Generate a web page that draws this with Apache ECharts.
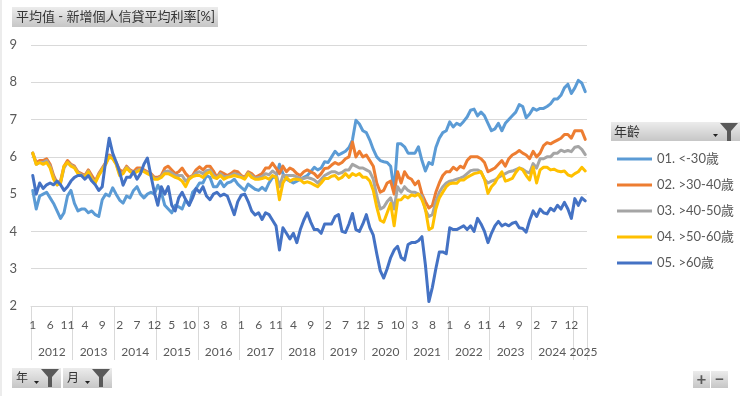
<!DOCTYPE html>
<html><head><meta charset="utf-8">
<script src="https://cdn.jsdelivr.net/npm/echarts@6/dist/echarts.min.js"></script>
<style>html,body{margin:0;padding:0;background:#fff}#c{width:740px;height:396px}</style>
</head><body><div id="c"></div>
<script>
// ---- data (monthly, 2012-01 .. 2025-04) ----
const years = ['2012','2013','2014','2015','2016','2017','2018','2019','2020','2021','2022','2023','2024','2025'];
const monthsInYear = [12,12,12,12,12,12,12,12,12,12,12,12,12,4];
const seriesNames = ['01. <-30歲','02. >30-40歲','03. >40-50歲','04. >50-60歲','05. >60歲'];
const yTicks = [2,3,4,5,6,7,8,9];

const age01 = [
 5.1,4.6,4.95,5.0,5.05,4.9,4.75,4.55,4.35,4.5,4.95,5.1,
 4.75,4.55,4.6,4.6,4.5,4.55,4.45,4.4,4.85,5.0,4.95,5.17,
 5.0,4.84,4.76,4.95,4.9,5.1,5.2,5.0,4.9,5.0,5.05,5.0,
 5.24,5.05,4.7,4.6,4.5,4.7,4.66,4.6,4.85,4.7,5.05,5.15,
 5.3,5.3,5.5,5.45,5.2,5.2,5.35,5.2,5.3,5.33,5.4,5.27,
 5.18,5.1,5.27,5.2,5.13,5.1,5.18,5.1,5.3,5.45,5.45,5.8,
 5.55,5.4,5.35,5.3,5.35,5.4,5.45,5.5,5.6,5.72,5.65,5.7,
 5.87,5.85,6.0,6.15,6.05,6.1,6.15,6.25,6.45,6.98,6.88,6.7,
 6.65,6.45,6.2,6.0,5.9,5.87,5.85,5.75,5.1,6.35,6.35,6.27,
 6.1,6.1,6.1,6.27,5.9,5.62,5.85,5.8,6.25,6.5,6.65,6.7,
 6.94,6.8,6.9,6.85,6.95,7.07,7.25,7.28,7.1,7.2,7.1,6.9,
 6.7,6.75,6.9,6.7,6.9,7.0,7.1,7.2,7.4,7.35,7.05,7.15,
 7.3,7.25,7.3,7.3,7.35,7.42,7.55,7.55,7.65,7.85,7.95,7.7,
 7.85,8.05,7.98,7.75
];
const age02 = [
 6.1,5.85,5.9,5.9,5.95,5.8,5.5,5.3,5.35,5.75,5.9,5.8,
 5.75,5.6,5.55,5.5,5.65,5.5,5.35,5.55,5.7,5.85,6.05,6.0,
 5.85,5.65,5.6,5.75,5.65,5.6,5.7,5.7,5.65,5.6,5.55,5.45,
 5.45,5.5,5.7,5.75,5.65,5.55,5.6,5.7,5.55,5.45,5.5,5.65,
 5.73,5.65,5.75,5.75,5.62,5.45,5.6,5.55,5.5,5.55,5.62,5.6,
 5.5,5.45,5.6,5.55,5.45,5.5,5.55,5.7,5.7,5.83,5.7,5.55,
 5.75,5.6,5.7,5.65,5.55,5.5,5.6,5.65,5.6,5.55,5.45,5.55,
 5.69,5.7,5.78,5.85,5.8,5.85,5.95,6.0,6.4,6.0,6.15,6.0,
 6.05,5.9,5.75,5.3,5.05,5.1,5.3,5.35,5.0,5.6,5.3,5.6,
 5.45,5.4,5.25,5.35,5.0,4.8,4.63,4.7,5.05,5.3,5.5,5.6,
 5.6,5.72,5.65,5.75,5.7,5.9,6.0,6.0,6.0,5.95,5.85,5.6,
 5.65,5.7,5.8,5.9,5.75,5.95,6.05,6.1,6.17,6.1,6.05,5.95,
 6.15,6.0,6.1,6.3,6.38,6.35,6.4,6.45,6.5,6.6,6.6,6.5,
 6.7,6.7,6.7,6.47
];
const age03 = [
 6.1,5.8,5.85,5.85,5.9,5.75,5.45,5.25,5.3,5.7,5.85,5.78,
 5.72,5.58,5.52,5.47,5.62,5.42,5.32,5.52,5.68,5.82,6.02,5.97,
 5.82,5.55,5.57,5.72,5.62,5.57,5.63,5.67,5.62,5.57,5.52,5.42,
 5.42,5.47,5.6,5.62,5.57,5.5,5.5,5.5,5.35,5.42,5.48,5.57,
 5.6,5.55,5.63,5.65,5.52,5.43,5.55,5.47,5.47,5.5,5.55,5.53,
 5.47,5.42,5.57,5.5,5.42,5.45,5.47,5.55,5.52,5.62,5.55,5.2,
 5.5,5.5,5.5,5.5,5.46,5.42,5.42,5.45,5.42,5.38,5.3,5.4,
 5.5,5.55,5.6,5.6,5.55,5.58,5.65,5.65,5.8,5.75,5.7,5.7,
 5.65,5.6,5.4,4.95,4.6,4.65,4.8,4.9,4.6,5.2,5.05,5.2,
 5.1,5.05,5.05,5.0,4.95,4.57,4.4,4.45,4.8,5.05,5.2,5.3,
 5.35,5.37,5.4,5.43,5.47,5.55,5.63,5.65,5.65,5.6,5.4,5.3,
 5.35,5.38,5.45,5.5,5.55,5.6,5.62,5.66,5.7,5.67,5.6,5.57,
 5.82,5.7,5.95,5.95,6.0,6.0,6.1,6.1,6.18,6.14,6.17,6.14,
 6.26,6.28,6.2,6.06
];
const age04 = [
 6.1,5.8,5.85,5.8,5.85,5.7,5.4,5.25,5.3,5.75,5.85,5.75,
 5.7,5.55,5.5,5.45,5.6,5.4,5.3,5.5,5.65,5.8,6.0,5.95,
 5.8,5.5,5.55,5.7,5.6,5.55,5.6,5.65,5.6,5.55,5.5,5.4,
 5.4,5.45,5.55,5.55,5.5,5.45,5.42,5.35,5.2,5.4,5.47,5.5,
 5.5,5.45,5.55,5.6,5.45,5.42,5.5,5.4,5.45,5.47,5.5,5.47,
 5.45,5.4,5.55,5.45,5.4,5.4,5.42,5.45,5.4,5.5,5.45,4.85,
 5.3,5.45,5.35,5.4,5.4,5.38,5.3,5.33,5.3,5.25,5.2,5.3,
 5.42,5.42,5.48,5.5,5.4,5.45,5.55,5.45,5.55,5.5,5.55,5.45,
 5.45,5.35,5.1,4.65,4.3,4.25,4.5,4.75,4.15,4.84,4.85,4.95,
 4.9,4.98,4.95,5.0,4.85,4.6,4.05,4.1,4.6,4.9,5.05,5.2,
 5.28,5.3,5.29,5.38,5.38,5.45,5.5,5.55,5.57,5.6,5.4,5.02,
 5.2,5.3,5.47,5.6,5.35,5.38,5.42,5.58,5.7,5.65,5.5,5.38,
 5.73,5.3,5.65,5.72,5.72,5.65,5.67,5.62,5.6,5.62,5.52,5.48,
 5.55,5.6,5.72,5.62
];
const age05 = [
 5.5,5.0,5.3,5.15,5.25,5.3,5.25,5.35,5.25,5.1,5.2,5.35,
 5.45,5.5,5.5,5.4,5.5,5.35,5.25,5.1,5.2,5.9,6.5,6.1,
 5.86,5.6,5.24,5.45,5.45,5.6,5.4,5.55,5.8,5.97,5.5,5.05,
 4.7,5.2,5.0,5.2,4.7,4.55,4.9,5.05,4.85,4.7,4.9,5.15,
 5.05,5.2,4.95,4.85,5.0,5.05,4.95,5.0,4.95,4.7,4.45,4.8,
 4.97,5.0,4.8,4.55,4.44,4.5,4.32,4.5,4.45,4.3,4.15,3.5,
 4.1,3.95,3.8,3.95,3.7,4.05,4.3,4.5,4.25,4.05,4.05,3.95,
 4.2,4.2,4.2,4.4,4.45,4.0,3.97,4.2,4.48,4.05,4.0,4.2,
 4.45,4.1,3.9,3.4,2.95,2.75,3.0,3.3,3.5,3.6,3.3,3.23,
 3.65,3.7,3.7,3.75,3.86,3.1,2.12,2.5,3.0,3.45,3.45,3.4,
 4.1,4.05,4.05,4.1,4.15,4.05,4.15,4.0,4.35,4.2,4.0,3.7,
 3.95,4.15,4.27,4.15,4.2,4.15,4.22,4.25,4.1,4.08,3.98,4.3,
 4.55,4.4,4.6,4.5,4.47,4.62,4.55,4.7,4.6,4.78,4.6,4.35,
 4.88,4.7,4.9,4.82
];
const seriesData = [age01, age02, age03, age04, age05];
const colors = ['#5B9BD5','#ED7D31','#A5A5A5','#FFC000','#4472C4'];

// ---- derived category structure ----
const categories = [], monthOf = [];
const yearBounds = [0], yearCenters = [];
let acc = 0;
years.forEach((y, k) => {
  for (let m = 1; m <= monthsInYear[k]; m++) { categories.push(y + '-' + m); monthOf.push(m); }
  yearCenters.push(k === years.length - 1 ? acc + monthsInYear[k] - 1 : acc + monthsInYear[k] / 2);
  acc += monthsInYear[k];
  yearBounds.push(acc);
});
const total = acc;

const FONT = 'Lato, "Noto Sans CJK TC", sans-serif';
const TXT = '#595959';

function funnel(x0, y0) {
  return { type: 'polygon', shape: { points: [[x0,y0],[x0+18,y0],[x0+11,y0+8],[x0+11,y0+18],[x0+7,y0+18],[x0+7,y0+8]] }, style: { fill: '#595959' } };
}
function arrow(x0, y0) {
  return { type: 'polygon', shape: { points: [[x0,y0],[x0+5,y0],[x0+2.5,y0+3]] }, style: { fill: '#222' } };
}
const btnGrad = { type: 'linear', x: 0, y: 0, x2: 0, y2: 1, colorStops: [{ offset: 0, color: '#ececec' }, { offset: 1, color: '#c6c6c6' }] };

const chart = echarts.init(document.getElementById('c'), null, { renderer: 'canvas' });
chart.setOption({
  animation: false,
  backgroundColor: '#fff',
  textStyle: { fontFamily: FONT },
  grid: { left: 31, right: 153, top: 45, bottom: 90 },
  xAxis: [{
    type: 'category', data: categories, boundaryGap: true, position: 'bottom', offset: 0,
    axisLine: { show: true, lineStyle: { color: '#d9d9d9' } },
    axisTick: { show: false },
    axisLabel: { interval: 4, margin: 13, fontSize: 12, color: TXT, fontFamily: FONT,
      formatter: (v, i) => String(monthOf[i]) }
  }, {
    type: 'value', min: 0, max: total, position: 'bottom', offset: 0,
    axisLine: { show: false }, splitLine: { show: false },
    axisTick: { show: true, length: 54, customValues: yearBounds, lineStyle: { color: '#d9d9d9' } },
    axisLabel: { show: true, margin: 40, fontSize: 12, color: TXT, fontFamily: FONT, customValues: yearCenters,
      formatter: v => { const k = yearCenters.indexOf(v); return k >= 0 ? years[k] : ''; } }
  }],
  yAxis: {
    type: 'value', min: yTicks[0], max: yTicks[yTicks.length - 1], interval: 1,
    axisLine: { show: false }, axisTick: { show: false },
    splitLine: { lineStyle: { color: '#d9d9d9' } },
    axisLabel: { fontSize: 13, color: TXT, margin: 14, fontFamily: FONT }
  },
  legend: {
    orient: 'vertical', left: 612, top: 146, icon: 'rect', itemWidth: 35, itemHeight: 3, itemGap: 10,
    textStyle: { fontSize: 13, color: TXT, lineHeight: 16, fontFamily: FONT },
    data: seriesNames
  },
  series: seriesData.map((d, k) => ({
    name: seriesNames[k], type: 'line', data: d, xAxisIndex: 0, symbol: 'none',
    lineStyle: { width: 3, color: colors[k], join: 'round', cap: 'round' },
    itemStyle: { color: colors[k] }
  })),
  graphic: [
    { type: 'line', shape: { x1: 1, y1: 0, x2: 1, y2: 396 }, style: { stroke: '#d9d9d9', lineWidth: 1 } },
    { type: 'rect', shape: { x: 12, y: 7, width: 206, height: 20 }, style: { fill: btnGrad } },
    { type: 'text', x: 16, y: 17, style: { text: '平均值 - 新增個人信貸平均利率[%]', font: '13px ' + FONT, fill: '#333', verticalAlign: 'middle' } },
    { type: 'rect', shape: { x: 611, y: 122, width: 129, height: 19 }, style: { fill: btnGrad } },
    { type: 'text', x: 614, y: 131.5, style: { text: '年齡', font: '13px ' + FONT, fill: '#333', verticalAlign: 'middle' } },
    arrow(713, 134), funnel(720, 123),
    { type: 'rect', shape: { x: 12, y: 368, width: 49, height: 20 }, style: { fill: btnGrad } },
    { type: 'text', x: 16, y: 378, style: { text: '年', font: '12px ' + FONT, fill: '#333', verticalAlign: 'middle' } },
    arrow(34, 381), funnel(41, 369),
    { type: 'rect', shape: { x: 63, y: 368, width: 49, height: 20 }, style: { fill: btnGrad } },
    { type: 'text', x: 67, y: 378, style: { text: '月', font: '12px ' + FONT, fill: '#333', verticalAlign: 'middle' } },
    arrow(85, 381), funnel(92, 369),
    { type: 'rect', shape: { x: 693, y: 371, width: 17, height: 17 }, style: { fill: btnGrad } },
    { type: 'rect', shape: { x: 711, y: 371, width: 17, height: 17 }, style: { fill: btnGrad } },
    { type: 'text', x: 701.5, y: 379.5, style: { text: '+', font: 'bold 17px ' + FONT, fill: '#595959', align: 'center', verticalAlign: 'middle' } },
    { type: 'text', x: 719.5, y: 379.5, style: { text: '−', font: 'bold 17px ' + FONT, fill: '#595959', align: 'center', verticalAlign: 'middle' } }
  ]
});
</script></body></html>
